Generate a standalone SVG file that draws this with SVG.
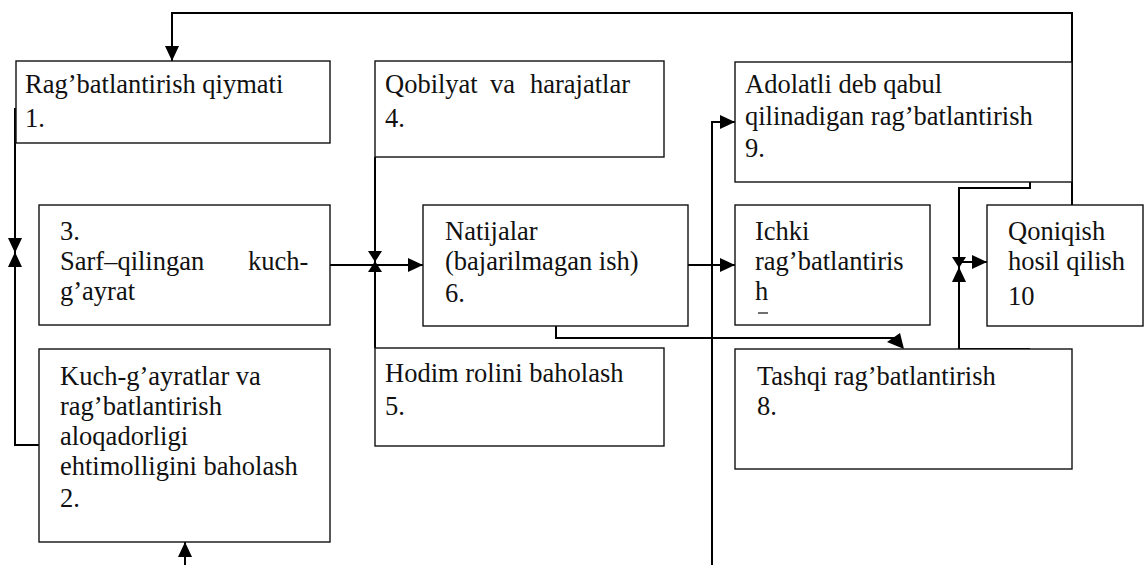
<svg xmlns="http://www.w3.org/2000/svg" width="1146" height="565" viewBox="0 0 1146 565">
<style>
.box{fill:#fff;stroke:#111;stroke-width:1.4}
.t{font-family:'Liberation Serif','DejaVu Serif',serif;font-size:26.5px;fill:#111}
.c{fill:none;stroke:#000;stroke-width:2}
</style>
<defs>
<marker id="arr" viewBox="0 0 15 14" refX="15" refY="7" markerWidth="15" markerHeight="14" markerUnits="userSpaceOnUse" orient="auto">
<path d="M0,0 L15,7 L0,14 z" fill="#000"/>
</marker>
<marker id="arrs" viewBox="0 0 11 14" refX="11" refY="7" markerWidth="11" markerHeight="14" markerUnits="userSpaceOnUse" orient="auto">
<path d="M0,0 L11,7 L0,14 z" fill="#000"/>
</marker>
</defs>
<rect width="1146" height="565" fill="#fff"/>
<g id="connectors">
<path class="c" d="M1072,205 V13 H172 V61" marker-end="url(#arr)"/>
<path class="c" d="M15,108 V253" marker-end="url(#arr)"/>
<path class="c" d="M39,445 H15 V252" marker-end="url(#arr)"/>
<path class="c" d="M330,265 H423" marker-end="url(#arr)"/>
<path class="c" d="M375,157 V262" marker-end="url(#arrs)"/>
<path class="c" d="M375,348 V261" marker-end="url(#arrs)"/>
<path class="c" d="M688,265 H735" marker-end="url(#arr)"/>
<path class="c" d="M556,326 V338 H897"/>
<polygon points="887,342 900,333 904,349" fill="#000"/>
<path class="c" d="M712,565 V122 H735" marker-end="url(#arr)"/>
<path class="c" d="M1030,182 V188 H959 V268" marker-end="url(#arrs)"/>
<path class="c" d="M1030,349 H959 V267" marker-end="url(#arr)"/>
<path class="c" d="M959,262 H987" marker-end="url(#arr)"/>
<path class="c" d="M185,565 V542" marker-end="url(#arr)"/>
</g>
<g id="n1"><rect class="box" x="16" y="61" width="314" height="82"/>
<text class="t" x="25" y="93">Rag’batlantirish qiymati</text><text class="t" x="25" y="127">1.</text></g>
<g id="n4"><rect class="box" x="375" y="61" width="289" height="96"/>
<text class="t" y="93"><tspan x="385">Qobilyat</tspan><tspan x="490">va</tspan><tspan x="530">harajatlar</tspan></text><text class="t" x="385" y="127">4.</text></g>
<g id="n9"><rect class="box" x="735" y="62" width="337" height="120"/>
<text class="t" x="745" y="93">Adolatli deb qabul</text><text class="t" x="745" y="125">qilinadigan rag’batlantirish</text><text class="t" x="745" y="157">9.</text></g>
<g id="n3"><rect class="box" x="39" y="205" width="291" height="120"/>
<text class="t" x="60" y="240">3.</text><text class="t" y="270"><tspan x="60">Sarf–qilingan</tspan><tspan x="248">kuch-</tspan></text><text class="t" x="60" y="300">g’ayrat</text></g>
<g id="n6"><rect class="box" x="423" y="205" width="265" height="121"/>
<text class="t" x="445" y="240">Natijalar</text><text class="t" x="445" y="270">(bajarilmagan ish)</text><text class="t" x="445" y="302">6.</text></g>
<g id="n7"><rect class="box" x="735" y="205" width="195" height="120"/>
<text class="t" x="755" y="240">Ichki</text><text class="t" x="755" y="270">rag’batlantiris</text><text class="t" x="755" y="300">h</text>
<line x1="758" y1="313" x2="768" y2="313" stroke="#111" stroke-width="1.2"/></g>
<g id="n10"><rect class="box" x="987" y="205" width="156" height="121"/>
<text class="t" x="1008" y="240">Qoniqish</text><text class="t" x="1008" y="270">hosil qilish</text><text class="t" x="1008" y="305">10</text></g>
<g id="n2"><rect class="box" x="39" y="349" width="291" height="193"/>
<text class="t" x="60" y="385">Kuch-g’ayratlar va</text><text class="t" x="60" y="415">rag’batlantirish</text><text class="t" x="60" y="445">aloqadorligi</text><text class="t" x="60" y="475">ehtimolligini baholash</text><text class="t" x="60" y="507">2.</text></g>
<g id="n5"><rect class="box" x="375" y="348" width="289" height="98"/>
<text class="t" x="385" y="382">Hodim rolini baholash</text><text class="t" x="385" y="415">5.</text></g>
<g id="n8"><rect class="box" x="735" y="349" width="337" height="120"/>
<text class="t" x="757" y="385">Tashqi rag’batlantirish</text><text class="t" x="757" y="415">8.</text></g>
</svg>
